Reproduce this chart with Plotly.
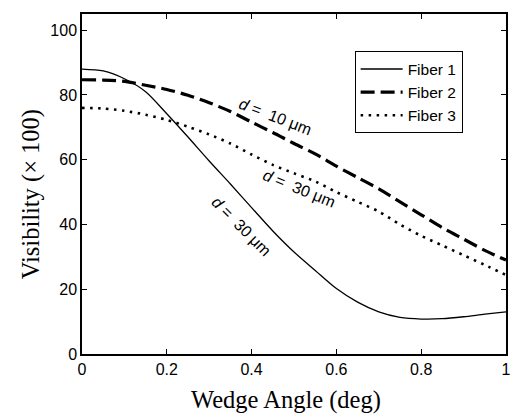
import plotly.graph_objects as go

# Wedge angle (deg) sample points
angle = [0.0, 0.05, 0.1, 0.15, 0.2, 0.25, 0.3, 0.35, 0.4, 0.45, 0.5,
         0.55, 0.6, 0.65, 0.7, 0.75, 0.8, 0.85, 0.9, 0.95, 1.0]

# Fringe visibility (x 100) for each fiber
fiber1 = [88.0, 87.4, 85.0, 81.0, 74.2, 67.0, 59.6, 52.5, 45.2, 38.0, 31.5,
          25.8, 20.2, 16.0, 13.0, 11.3, 10.8, 10.9, 11.5, 12.3, 13.0]
fiber2 = [84.7, 84.6, 84.2, 83.0, 81.7, 79.9, 77.6, 74.9, 71.6, 68.4, 65.0,
          61.8, 58.0, 54.5, 51.0, 47.0, 43.0, 39.0, 35.5, 32.0, 29.0]
fiber3 = [76.0, 75.8, 75.1, 73.9, 72.3, 70.2, 67.8, 65.0, 61.6, 58.4, 55.8,
          53.3, 50.0, 47.0, 44.0, 40.0, 36.5, 33.5, 30.5, 27.5, 24.4]

series_names = ["Fiber 1", "Fiber 2", "Fiber 3"]

x_tickvals = [0, 0.2, 0.4, 0.6, 0.8, 1.0]
x_ticktext = ["0", "0.2", "0.4", "0.6", "0.8", "1"]
y_tickvals = [0, 20, 40, 60, 80, 100]

x_title = "Wedge Angle (deg)"
y_title = "Visibility (× 100)"

# Curve labels: text, anchor point (angle, visibility), rotation
label_text = ["<i>d</i> =  10 μm", "<i>d</i> =  30 μm", "<i>d</i> =  30 μm"]
label_x = [0.455, 0.512, 0.376]
label_y = [73.2, 51.1, 39.3]
label_rot = [21, 22, 45]

sans = "Liberation Sans, Arial, sans-serif"
serif = "Liberation Serif, Times New Roman, serif"

fig = go.Figure()
fig.add_trace(go.Scatter(x=angle, y=fiber1, mode="lines", name=series_names[0],
                         line=dict(color="black", width=1.3, shape="spline", smoothing=0.8)))
fig.add_trace(go.Scatter(x=angle, y=fiber2, mode="lines", name=series_names[1],
                         line=dict(color="black", width=3.2, dash="14px,6px",
                                   shape="spline", smoothing=0.8)))
fig.add_trace(go.Scatter(x=angle, y=fiber3, mode="lines", name=series_names[2],
                         line=dict(color="black", width=2.6, dash="2.5px,5.5px",
                                   shape="spline", smoothing=0.8)))

for t, ax_, ay_, rot in zip(label_text, label_x, label_y, label_rot):
    fig.add_annotation(x=ax_, y=ay_, xref="x", yref="y", text=t, showarrow=False,
                       textangle=rot, font=dict(family=sans, size=16, color="black"))

# Axis titles
fig.add_annotation(x=0.48, y=-0.135, xref="paper", yref="paper", text=x_title,
                   showarrow=False, xanchor="center", yanchor="middle",
                   font=dict(family=serif, size=24.5, color="black"))
fig.add_annotation(x=-0.121, y=0.469, xref="paper", yref="paper", text=y_title,
                   showarrow=False, textangle=-90, xanchor="center", yanchor="middle",
                   font=dict(family=serif, size=24.5, color="black"))

axis_common = dict(
    showgrid=False, zeroline=False, showline=True, linecolor="black", linewidth=1.5,
    mirror="ticks", ticks="inside", ticklen=5, tickwidth=1.2, tickcolor="black",
    tickfont=dict(family=sans, size=16, color="black"), ticklabeloverflow="allow",
)

fig.update_layout(
    width=513, height=415,
    margin=dict(l=82, r=2, t=14, b=61),
    paper_bgcolor="white", plot_bgcolor="white",
    xaxis=dict(range=[0, 1], tickvals=x_tickvals, ticktext=x_ticktext, **axis_common),
    yaxis=dict(range=[0, 105], tickvals=y_tickvals, **axis_common),
    legend=dict(x=0.643, y=0.89, xanchor="left", yanchor="top",
                bordercolor="black", borderwidth=1, bgcolor="white",
                font=dict(family=sans, size=15.5, color="black"),
                tracegroupgap=0, itemwidth=42),
    showlegend=True,
)

fig.write_html("out.html")
